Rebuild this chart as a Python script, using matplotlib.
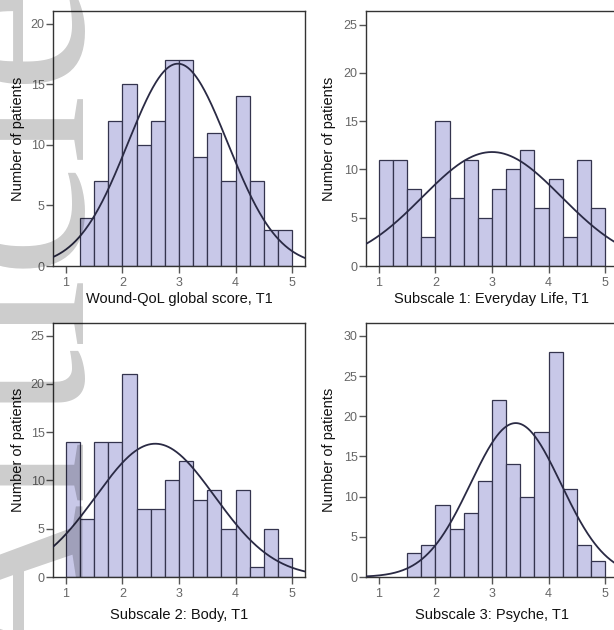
import numpy as np
import matplotlib
matplotlib.use("Agg")
import matplotlib.pyplot as plt

plt.rcParams['font.family'] = ['Liberation Sans', 'DejaVu Sans']

# ---- data ----
bin_width = 0.25

titles = ["Wound-QoL global score, T1", "Subscale 1: Everyday Life, T1",
          "Subscale 2: Body, T1", "Subscale 3: Psyche, T1"]

start1 = 1.25
counts1 = [4, 7, 12, 15, 10, 12, 17, 17, 9, 11, 7, 14, 7, 3, 3]
start2 = 1.0
counts2 = [11, 11, 8, 3, 15, 7, 11, 5, 8, 10, 12, 6, 9, 3, 11, 6]
start3 = 1.0
counts3 = [14, 6, 14, 14, 21, 7, 7, 10, 12, 8, 9, 5, 9, 1, 5, 2]
start4 = 1.5
counts4 = [3, 4, 9, 6, 8, 12, 22, 14, 10, 18, 28, 11, 4, 2]

# normal curve overlay: mean, sd, peak height
curve_mean = [2.98, 3.0, 2.58, 3.42]
curve_sd = [0.885, 1.23, 1.05, 0.80]
curve_peak = [16.7, 11.8, 13.8, 19.15]

y_max = [21.05, 26.4, 26.3, 31.6]
y_ticks = [[0, 5, 10, 15, 20], [0, 5, 10, 15, 20, 25],
           [0, 5, 10, 15, 20, 25], [0, 5, 10, 15, 20, 25, 30]]
x_ticks = [1, 2, 3, 4, 5]
ylabel = "Number of patients"

starts = [start1, start2, start3, start4]
counts = [counts1, counts2, counts3, counts4]

# ---- layout (pixels: left, top, right, bottom) ----
W, H = 614, 630
boxes = [(53, 11, 305, 266), (366, 11, 618, 266),
         (53, 323, 305, 577), (366, 323, 618, 577)]
xlab_y = [-0.13, -0.13, -0.15, -0.15]
ylab_x = [-0.14, -0.146, -0.14, -0.146]

fig = plt.figure(figsize=(W / 100, H / 100), dpi=100)
fig.patch.set_facecolor('white')

bar_color = '#c8c8e8'
edge_color = '#34344e'
curve_color = '#2a2a44'
spine_color = '#333333'
tick_lbl_color = '#666666'

for i in range(4):
    l, t, r, b = boxes[i]
    ax = fig.add_axes([l / W, (H - b) / H, (r - l) / W, (b - t) / H])
    c = counts[i]
    lefts = starts[i] + bin_width * np.arange(len(c))
    ax.bar(lefts, c, width=bin_width, align='edge', color=bar_color,
           edgecolor=edge_color, linewidth=0.9, zorder=2)
    ax.set_xlim(0.77, 5.23)
    ax.set_ylim(0, y_max[i])
    xs = np.linspace(0.77, 5.23, 400)
    ys = curve_peak[i] * np.exp(-0.5 * ((xs - curve_mean[i]) / curve_sd[i]) ** 2)
    ax.plot(xs, ys, color=curve_color, lw=1.3, zorder=3)
    ax.set_xticks(x_ticks)
    ax.set_yticks(y_ticks[i])
    ax.tick_params(axis='both', direction='out', length=5, width=1,
                   color='#555555', labelsize=9, labelcolor=tick_lbl_color)
    ax.tick_params(axis='x', pad=3)
    ax.tick_params(axis='y', pad=1)
    for s in ax.spines.values():
        s.set_color(spine_color)
        s.set_linewidth(1.0)
    ax.set_ylabel(ylabel, fontsize=10.5, color='#111111', va='center')
    ax.yaxis.set_label_coords(ylab_x[i], 0.5)
    ax.set_xlabel(titles[i], fontsize=10.5, color='#111111', va='center')
    ax.xaxis.set_label_coords(0.5, xlab_y[i])

# journal watermark
fig.text(81 / W, -56 / H, "Article", rotation=90, rotation_mode='anchor',
         ha='left', va='baseline', fontsize=184, family='Liberation Serif',
         color='black', alpha=0.2, zorder=10)

fig.savefig('out.png', dpi=100, facecolor='white')
